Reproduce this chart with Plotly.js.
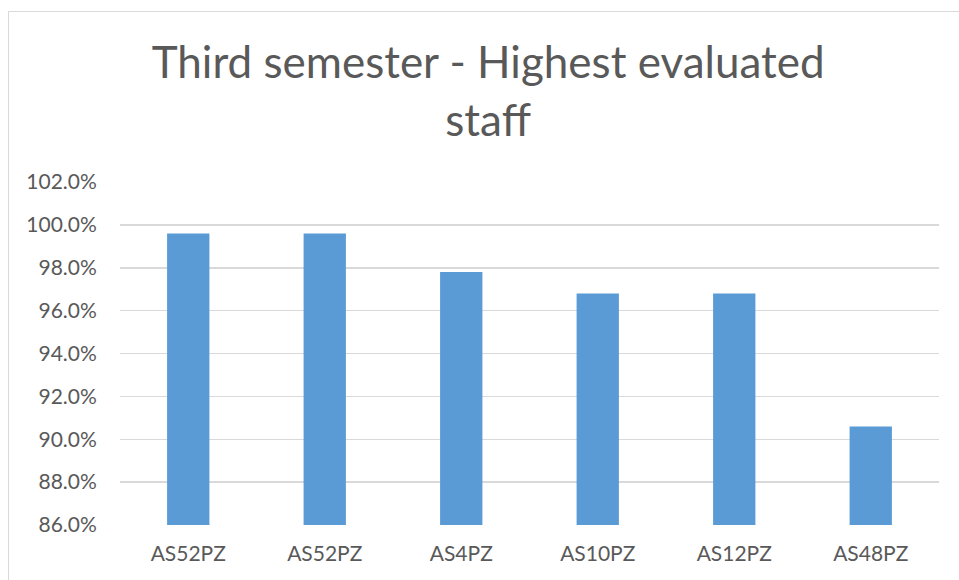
<!DOCTYPE html>
<html>
<head>
<meta charset="utf-8">
<script src="https://cdn.plot.ly/plotly-3.0.1.min.js"></script>
<style>
html, body { margin: 0; padding: 0; background: #fff; }
#chart { width: 959px; height: 580px; }
#frame { position: absolute; left: 8px; top: 11px; width: 951px; height: 569px;
  border-left: 1.5px solid #d9d9d9; border-top: 1.5px solid #d9d9d9; pointer-events: none; box-sizing: border-box; }
</style>
</head>
<body>
<div id="chart"></div>
<div id="frame"></div>
<script>
var categories = ["AS52PZ", "AS52PZ", "AS4PZ", "AS10PZ", "AS12PZ", "AS48PZ"];
var values = [99.6, 99.6, 97.8, 96.8, 96.8, 90.6];
var yTicks = [86, 88, 90, 92, 94, 96, 98, 100, 102];
var titleText = "Third semester - Highest evaluated<br>staff";

var positions = categories.map(function (c, i) { return i; });

var trace = {
  type: "bar",
  x: positions,
  y: values,
  width: 0.31,
  marker: { color: "#5b9bd5", line: { width: 0 } },
  hoverinfo: "skip"
};

var layout = {
  width: 959,
  height: 580,
  margin: { l: 120, r: 20, t: 182, b: 55 },
  paper_bgcolor: "rgba(0,0,0,0)",
  plot_bgcolor: "#fff",
  showlegend: false,
  font: { family: "Lato, 'Open Sans', sans-serif", color: "#595959", size: 21 },
  title: {
    text: titleText,
    font: { family: "Lato, 'Open Sans', sans-serif", size: 44, color: "#595959" },
    x: 0.509, xref: "container", xanchor: "center",
    y: 0.865, yref: "container", yanchor: "top"
  },
  xaxis: {
    tickmode: "array",
    tickvals: positions,
    ticktext: categories,
    range: [-0.5, categories.length - 0.5],
    showgrid: false,
    zeroline: false,
    showline: false,
    ticks: "outside", ticklen: 10, tickcolor: "rgba(0,0,0,0)",
    tickfont: { size: 21, color: "#595959" },
    fixedrange: true
  },
  yaxis: {
    range: [86, 102],
    tickmode: "array",
    tickvals: yTicks,
    ticktext: yTicks.map(function (v) { return v.toFixed(1) + "%"; }),
    showgrid: true,
    gridcolor: "#d9d9d9",
    gridwidth: 1.5,
    zeroline: false,
    showline: false,
    ticks: "outside", ticklen: 18, tickcolor: "rgba(0,0,0,0)",
    tickfont: { size: 21, color: "#595959" },
    fixedrange: true
  }
};

Plotly.newPlot("chart", [trace], layout, { displayModeBar: false, staticPlot: true });
</script>
</body>
</html>
